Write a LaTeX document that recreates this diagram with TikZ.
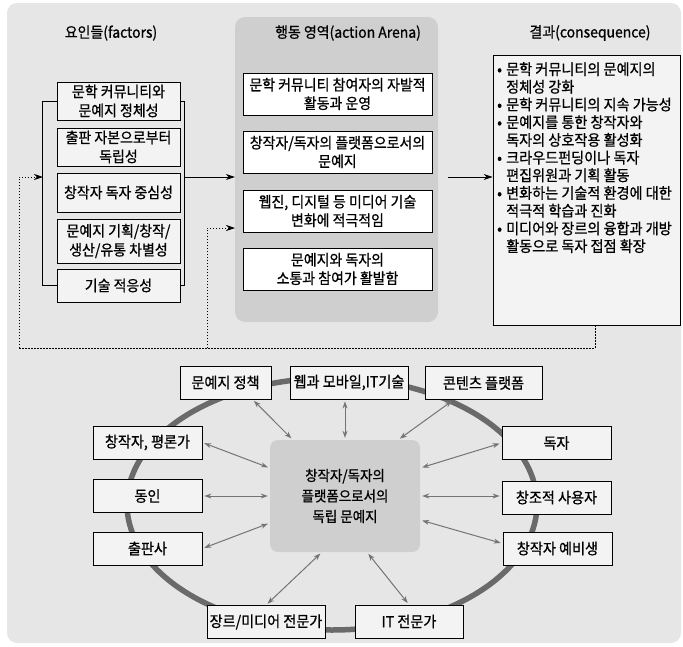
\documentclass[tikz,border=0pt]{standalone}
\usepackage{fontspec}
\setmainfont{Noto Sans CJK KR}[FakeStretch=0.93, FakeBold=0.8]
\usetikzlibrary{arrows.meta,calc}
\definecolor{bgc}{HTML}{E6E6E6}
\definecolor{arenac}{HTML}{CFCFCF}
\definecolor{boxc}{HTML}{F3F3F3}
\definecolor{ringc}{HTML}{6A6A6A}
\definecolor{linkc}{HTML}{747474}
\begin{document}
\begin{tikzpicture}[x=1pt,y=-1pt,
  every node/.style={font=\fontsize{15}{19}\selectfont, inner sep=1pt},
  fbox/.style={draw=black, line width=0.8pt, fill=boxc, align=center, minimum width=123},
  abox/.style={draw=black, line width=0.8pt, fill=white, align=center, minimum width=189, minimum height=42, font=\fontsize{15}{18.5}\selectfont},
  bbox/.style={draw=black, line width=0.8pt, fill=boxc, align=center, minimum height=33, font=\fontsize{15.2}{18}\selectfont},
  title/.style={font=\fontsize{15}{18}\selectfont},
  arr/.style={-{Stealth[length=9pt,width=6pt]}, line width=0.8pt, black},
  dotarr/.style={-{Stealth[length=9pt,width=6pt]}, line width=0.8pt, black, dash pattern=on 1.4pt off 1.6pt},
  dotline/.style={line width=0.8pt, black, dash pattern=on 1.4pt off 1.6pt},
  link/.style={{Stealth[length=7pt,width=5pt]}-{Stealth[length=7pt,width=5pt]}, line width=1pt, linkc, shorten <=2pt, shorten >=2pt}
]
\useasboundingbox (0,0) rectangle (683,646);
\fill[bgc, rounded corners=10] (7,3) rectangle (681,643);

% ---------- titles
\node[title] (tF) at (111,33) {요인들(factors)};
\node[title] (tC) at (590,33) {결과(consequence)};

% ---------- action arena
\node[fill=arenac, rounded corners=10, minimum width=203, minimum height=305] (arena) at (336.5,169.5) {};
\node[title] (tA) at (348,33) {행동 영역(action Arena)};
\node[abox] (A1) at (337.5,94) {문학 커뮤니티 참여자의 자발적\\활동과 운영};
\node[abox] (A2) at (337.5,152) {창작자/독자의 플랫폼으로서의\\문예지};
\node[abox] (A3) at (337.5,211) {웹진, 디지털 등 미디어 기술\\변화에 적극적임};
\node[abox] (A4) at (337.5,269) {문예지와 독자의\\소통과 참여가 활발함};

% ---------- factors
\node[fbox, minimum height=38] (F1) at (118.5,101) {문학 커뮤니티와\\문예지 정체성};
\node[fbox, minimum height=38] (F2) at (118.5,147) {출판 자본으로부터\\독립성};
\node[fbox, minimum height=39] (F3) at (118.5,192.5) {창작자 독자 중심성};
\node[fbox, minimum height=44] (F4) at (118.5,241) {문예지 기획/창작/\\생산/유통 차별성};
\node[fbox, minimum height=33] (F5) at (118.5,285.5) {기술 적응성};
\draw[line width=0.8pt] (F1.west) -- ++(-14,0) |- (F5.west);
\draw[line width=0.8pt] (F1.east) -- ++(4,0) |- (F5.east);
\coordinate (brL) at (43,177);
\coordinate (brR) at (184,177);

% ---------- consequence
\node[draw=black, line width=0.8pt, fill=boxc, minimum width=187, minimum height=270] (cons) at (586.5,190) {};
\node[anchor=north west, align=left, inner sep=0pt, font=\fontsize{15.2}{17.7}\selectfont] (ctext) at (497,62) {%
\makebox[9pt][l]{•}문학 커뮤니티의 문예지의\\
\hspace*{9pt}정체성 강화\\
\makebox[9pt][l]{•}문학 커뮤니티의 지속 가능성\\
\makebox[9pt][l]{•}문예지를 통한 창작자와\\
\hspace*{9pt}독자의 상호작용 활성화\\
\makebox[9pt][l]{•}크라우드펀딩이나 독자\\
\hspace*{9pt}편집위원과 기획 활동\\
\makebox[9pt][l]{•}변화하는 기술적 환경에 대한\\
\hspace*{9pt}적극적 학습과 진화\\
\makebox[9pt][l]{•}미디어와 장르의 융합과 개방\\
\hspace*{9pt}활동으로 독자 접점 확장};

% ---------- top arrows
\draw[arr] (brR) -- (brR -| arena.west);
\draw[arr, shorten <=10pt] (arena.east |- brR) -- (cons.west |- brR);

% ---------- feedback dotted lines
\coordinate (fb) at (595,348);
\coordinate (fbL) at (19,348);
\coordinate (fbM) at (207,348);
\coordinate (arIn) at (235,228);
\draw[dotline] (cons.south -| fb) -- (fb) -- (fbL);
\draw[dotarr] (fbL) |- (brL);
\draw[dotarr] (fbM) |- (arIn);

% ---------- bottom ring
\draw[ringc, line width=5.5pt] (332,504) ellipse [x radius=205, y radius=126];
\node[fill=arenac, rounded corners=8, minimum width=150, minimum height=112, align=center, font=\fontsize{14.5}{20.5}\selectfont] (C) at (345,496) {창작자/독자의\\플랫폼으로서의\\독립 문예지};

\node[bbox, minimum width=91] (P1) at (225.5,382.5) {문예지 정책};
\node[bbox, minimum width=118] (P2) at (349,382.5) {웹과 모바일,IT기술};
\node[bbox, minimum width=117] (P3) at (483.5,383) {콘텐츠 플랫폼};
\node[bbox, minimum width=109] (L1) at (147.5,442.5) {창작자, 평론가};
\node[bbox, minimum width=109] (L2) at (147.5,496) {동인};
\node[bbox, minimum width=109] (L3) at (147.5,548.5) {출판사};
\node[bbox, minimum width=118] (B1) at (266,622) {장르/미디어 전문가};
\node[bbox, minimum width=108] (B2) at (409,621.5) {IT 전문가};
\node[bbox, minimum width=109] (R1) at (556.5,443) {독자};
\node[bbox, minimum width=109] (R2) at (556.5,497.5) {창조적 사용자};
\node[bbox, minimum width=109] (R3) at (557.5,548.5) {창작자 예비생};

\draw[link] ([xshift=27pt]P1.south) -- ([xshift=23pt]C.north west);
\draw[link] (C.north |- P2.south) -- (C.north);
\draw[link] ([xshift=-30pt]P3.south) -- ([xshift=-22pt]C.north east);
\draw[link] (L1.east) -- ([yshift=28pt]C.west);
\draw[link] (L2.east) -- (C.west);
\draw[link] (L3.east) -- ([yshift=-27pt]C.west);
\draw[link] (B1.north) -- ([xshift=52pt]C.south west);
\draw[link] ([xshift=22pt]C.south) -- (B2.north);
\draw[link] ([yshift=28pt]C.east) -- (R1.west);
\draw[link] (C.east) -- (C.east -| R2.west);
\draw[link] ([yshift=-24pt]C.east) -- ([yshift=5pt]R3.west);
\end{tikzpicture}
\end{document}
